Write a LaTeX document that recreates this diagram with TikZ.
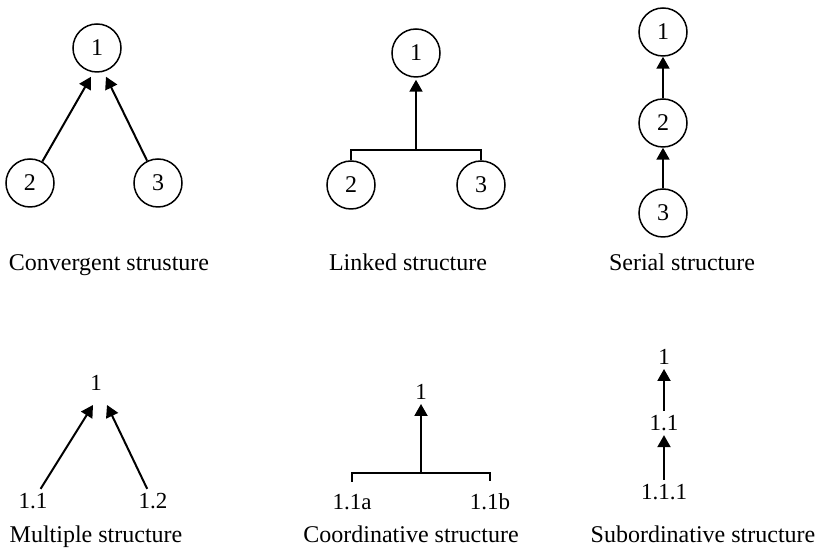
\documentclass[tikz,border=0pt]{standalone}
\usepackage{fontspec}
\setmainfont{Liberation Serif}
\usepackage{tikz}
\usetikzlibrary{arrows.meta}
\usetikzlibrary{calc}
\tikzstyle{rond}=[
        circle,
        draw,
        line width=0.75pt,
        minimum size=24pt,
        inner sep=0pt,
        font=\fontsize{12}{14}\selectfont
]
\tikzstyle{num}=[inner sep=2pt,font=\fontsize{11.5}{13}\selectfont]
\tikzstyle{titre}=[anchor=base,font=\fontsize{12}{14}\selectfont]
\tikzstyle{suite}=[-{Triangle[length=6pt,width=6.5pt]},line width=1pt]
\tikzstyle{barre}=[line width=1pt]

\begin{document}
\begin{tikzpicture}[x=0.5pt,y=-0.5pt]
\useasboundingbox (0,0) rectangle (821,550);
%Convergent
\node[rond] (conv1) at (97,48) {1};
\node[rond] (conv2) at (30,183) {2};
\node[rond] (conv3) at (158,183) {3};
\node[titre] (convt) at (109,271) {Convergent strusture};
\draw[suite] (conv2) -- ($(conv1.south)+(-6,4)$);
\draw[suite] (conv3) -- ($(conv1.south)+(9,4)$);

%Linked
\node[rond] (link1) at (416,53) {1};
\node[rond] (link2) at (351,185) {2};
\node[rond] (link3) at (481,185) {3};
\node[titre] (linkt) at (408,271) {Linked structure};
\coordinate (linkj) at ($(link2.north)!0.5!(link3.north)+(0,-10)$);
\draw[barre] (link2.north) -- ++(0,-10) -| (link3.north);
\draw[suite,shorten >=1pt] (linkj) -- (link1);

%Serial
\node[rond] (ser1) at (663,32) {1};
\node[rond] (ser2) at (663,123) {2};
\node[rond] (ser3) at (663,213) {3};
\node[titre] (sert) at (682,271) {Serial structure};
\draw[suite] (ser2) -- (ser1);
\draw[suite] (ser3) -- (ser2);

%Multiple
\node[num] (mult1) at (96,383) {1};
\node[num] (mult11) at (33,501) {1.1};
\node[num] (mult12) at (153,501) {1.2};
\node[titre] (multt) at (96,543) {Multiple structure};
\draw[suite] (mult11) -- ($(mult1.south)+(-3,10)$);
\draw[suite] (mult12) -- ($(mult1.south)+(11,10)$);

%Coordinative
\node[num] (coord1) at (421,392) {1};
\node[num] (coorda) at (352,502) {1.1a};
\node[num] (coordb) at (490,502) {1.1b};
\node[titre] (coordt) at (411,543) {Coordinative structure};
\coordinate (coordj) at ($(coorda.north)!0.5!(coordb.north)+(0,-17)$);
\draw[barre] ([yshift=4pt]coorda.north) -- ++(0,-9) -| ([yshift=4pt]coordb.north);
\draw[suite] (coordj) -- (coord1);

%Subordinative
\node[num] (sub1) at (664,357) {1};
\node[num] (sub11) at (664,423) {1.1};
\node[num] (sub111) at (664,492) {1.1.1};
\node[titre] (subt) at (703,543) {Subordinative structure};
\draw[suite] (sub11) -- (sub1);
\draw[suite] (sub111) -- (sub11);
\end{tikzpicture}
\end{document}
